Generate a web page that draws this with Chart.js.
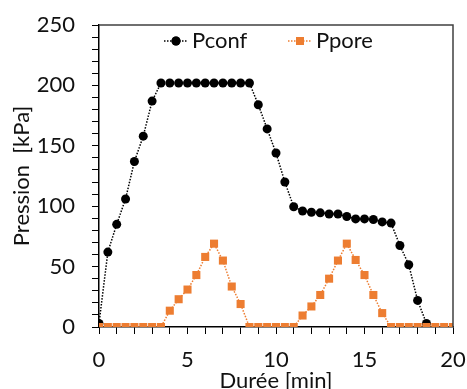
<!DOCTYPE html>
<html>
<head>
<meta charset="utf-8">
<script src="https://cdn.jsdelivr.net/npm/chart.js@4/dist/chart.umd.min.js"></script>
<style>
  html, body { margin: 0; padding: 0; background: #fff; overflow: hidden; }
  #wrap { width: 467px; height: 389px; }
</style>
</head>
<body>
<div id="wrap"><canvas id="c" width="467" height="389"></canvas></div>
<script>
const timeMin = [0, 0.5, 1, 1.5, 2, 2.5, 3, 3.5, 4, 4.5, 5, 5.5, 6, 6.5, 7, 7.5, 8, 8.5, 9, 9.5, 10,
                 10.5, 11, 11.5, 12, 12.5, 13, 13.5, 14, 14.5, 15, 15.5, 16, 16.5, 17, 17.5, 18, 18.5, 19, 19.5, 20];
const pconf = [3, 62, 85, 106, 137, 158, 187, 202, 202, 202, 202, 202, 202, 202, 202, 202, 202, 202, 184, 164, 144,
               120, 99.5, 96, 95, 94.5, 93.5, 93.5, 91.5, 89.5, 89.5, 89, 87, 86, 67.5, 51.5, 22, 3, null, null, null];
const ppore = [0, 0, 0, 0, 0, 0, 0, 0, 13.5, 23, 31, 43, 58, 69, 55, 33.5, 19, 0, 0, 0, 0,
               0, 0, 9.5, 17, 26.5, 40, 55, 69, 55.5, 43, 26.5, 11.5, 0, 0, 0, 0, 0, 0, 0, 0];
const seriesNames = ['Pconf', 'Ppore'];
const xTitle = 'Durée [min]';
const yTitle = 'Pression  [kPa]';

const ORANGE = '#ED7D31';
const FONT = 'Lato';

const toPts = (vals) => timeMin.map((t, i) => ({ x: t, y: vals[i] }));

const frame = {
  id: 'frame',
  afterDatasetsDraw(chart) {
    const { ctx, chartArea: a } = chart;
    ctx.save();
    ctx.strokeStyle = '#404040';
    ctx.lineWidth = 1.5;
    ctx.beginPath();
    ctx.moveTo(a.left, a.top);
    ctx.lineTo(a.right, a.top);
    ctx.lineTo(a.right, a.bottom);
    ctx.stroke();
    ctx.restore();
  }
};

const insideLegend = {
  id: 'insideLegend',
  afterDraw(chart) {
    const { ctx } = chart;
    const y = 41;
    const items = [
      { ds: chart.data.datasets[1], x0: 164, text: seriesNames[0] },
      { ds: chart.data.datasets[0], x0: 288, text: seriesNames[1] }
    ];
    ctx.save();
    items.forEach(it => {
      const ds = it.ds;
      ctx.strokeStyle = ds.borderColor;
      ctx.lineWidth = ds.borderWidth;
      ctx.setLineDash(ds.borderDash);
      ctx.beginPath();
      ctx.moveTo(it.x0, y);
      ctx.lineTo(it.x0 + 24, y);
      ctx.stroke();
      ctx.setLineDash([]);
      Chart.helpers.drawPoint(ctx, {
        pointStyle: ds.pointStyle, radius: ds.pointRadius, borderWidth: 0, rotation: 0
      }, it.x0 + 12, y);
      ctx.fillStyle = ds.pointBackgroundColor;
      ctx.fill();
      ctx.fillStyle = '#111';
      ctx.font = '22px ' + FONT;
      ctx.textBaseline = 'middle';
      ctx.textAlign = 'left';
      ctx.fillText(it.text, it.x0 + 28, y);
    });
    ctx.restore();
  }
};

function noPad(s) { s.paddingTop = 0; s.paddingBottom = 0; s.paddingLeft = 0; s.paddingRight = 0; }

new Chart(document.getElementById('c'), {
  type: 'line',
  data: {
    datasets: [
      {
        label: seriesNames[1],
        data: toPts(ppore),
        borderColor: ORANGE,
        backgroundColor: ORANGE,
        pointBackgroundColor: ORANGE,
        pointBorderColor: ORANGE,
        pointStyle: 'rect',
        pointRadius: 5.7,
        pointBorderWidth: 0,
        borderWidth: 1.5,
        borderDash: [1.5, 1.5],
        order: 0,
        tension: 0
      },
      {
        label: seriesNames[0],
        data: toPts(pconf),
        borderColor: '#000',
        backgroundColor: '#000',
        pointBackgroundColor: '#000',
        pointBorderColor: '#000',
        pointStyle: 'circle',
        pointRadius: 4.5,
        pointBorderWidth: 0,
        borderWidth: 1.5,
        borderDash: [1.5, 1.5],
        order: 1,
        tension: 0,
        spanGaps: false
      }
    ]
  },
  options: {
    responsive: false,
    animation: false,
    devicePixelRatio: 1,
    layout: { padding: { top: 25, right: 14, left: 0, bottom: 0 } },
    plugins: { legend: { display: false }, tooltip: { enabled: false } },
    scales: {
      x: {
        type: 'linear',
        min: 0, max: 20,
        afterFit(s) { s.height = 62; noPad(s); },
        border: { display: true, color: '#000', width: 1.5 },
        grid: { drawOnChartArea: false, drawTicks: true, tickLength: 7, color: '#000', tickWidth: 1 },
        ticks: {
          stepSize: 1, autoSkip: false, maxRotation: 0, padding: 13,
          color: '#111', font: { family: FONT, size: 22 },
          callback: (v) => (v % 5 === 0 ? String(v) : '')
        },
        title: { display: true, text: xTitle, color: '#111', font: { family: FONT, size: 22, lineHeight: 0.75 }, padding: { top: 0, bottom: 0 } }
      },
      y: {
        min: 0, max: 250,
        afterFit(s) { s.width = 99; noPad(s); },
        border: { display: true, color: '#000', width: 1.5 },
        grid: { drawOnChartArea: false, drawTicks: true, tickLength: 7, color: '#000', tickWidth: 1 },
        ticks: {
          stepSize: 10, autoSkip: false, padding: 17,
          color: '#111', font: { family: FONT, size: 22 },
          callback: (v) => (v % 50 === 0 ? String(v) : '')
        },
        title: { display: true, text: yTitle, color: '#111', font: { family: FONT, size: 22 }, padding: { top: 9, bottom: 0 } }
      }
    }
  },
  plugins: [frame, insideLegend]
});
</script>
</body>
</html>
